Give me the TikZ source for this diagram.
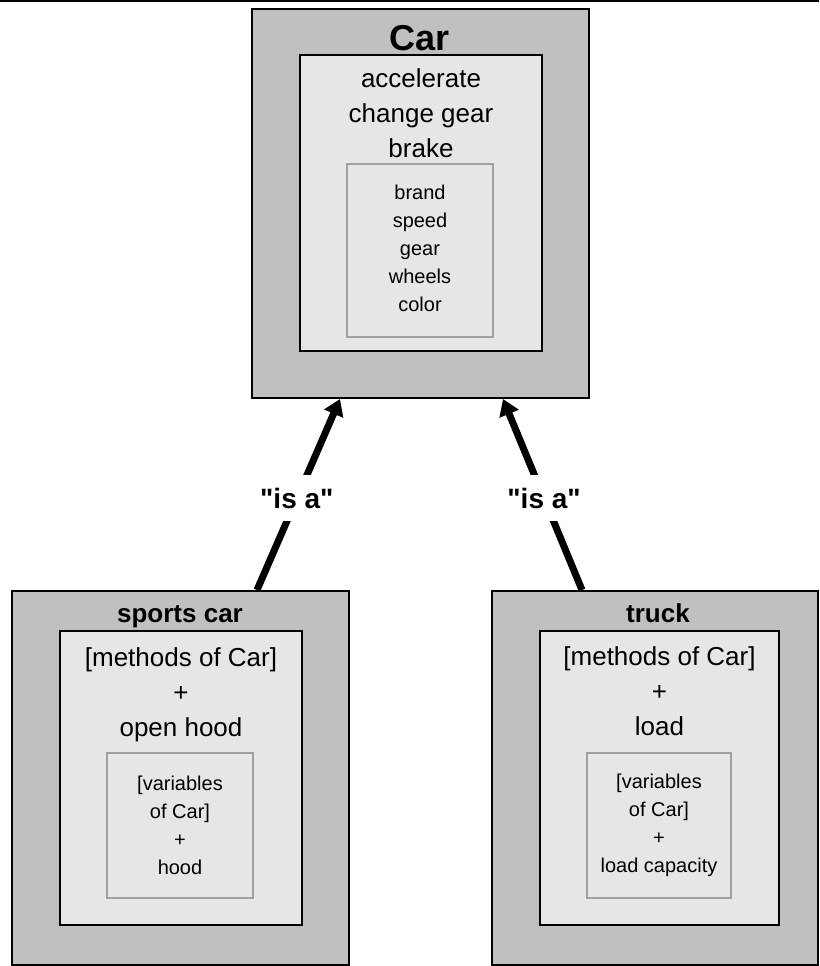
\documentclass[tikz,border=0pt]{standalone}
\usepackage{fontspec}
\setmainfont{Liberation Sans}
\usetikzlibrary{arrows.meta,positioning,calc}
\definecolor{boxGray}{RGB}{192,192,192}
\definecolor{boxLight}{RGB}{230,230,230}
\definecolor{varEdge}{RGB}{160,160,160}

\begin{document}
\begin{tikzpicture}[x=1pt,y=-1pt,
    outer/.style={draw=black, line width=2pt, fill=boxGray, inner sep=0pt},
    methods/.style={draw=black, line width=2pt, fill=boxLight, inner sep=0pt},
    vars/.style={draw=varEdge, line width=2pt, fill=boxLight, inner sep=0pt},
    title/.style={font=\bfseries\fontsize{26}{30}\selectfont, inner sep=0pt, anchor=base},
    big/.style={font=\fontsize{26}{35}\selectfont, align=center, inner sep=0pt},
    small/.style={font=\fontsize{20}{28}\selectfont, align=center, inner sep=0pt},
    isa/.style={line width=7pt, -{Triangle[length=16pt,width=20pt]}},
    isalabel/.style={fill=white, font=\bfseries\fontsize{28}{30}\selectfont,
      inner xsep=1pt, minimum height=46pt}
  ]
  \useasboundingbox (0,0) rectangle (819,966);
  \draw[line width=2.5pt] (0,1) -- (819,1);

  % Car
  \node[outer, minimum width=337pt, minimum height=389pt] (car) at (420.5,203.5) {};
  \node[methods, minimum width=242pt, minimum height=296pt] (carmeth) at (421,203) {};
  \node[vars, minimum width=146pt, minimum height=173pt] (carvars) at (420,250.5) {};
  \node[title, font=\bfseries\fontsize{36}{40}\selectfont] (cartitle) at (420,51) {Car};
  \node[big] (carmethtext) at (421,113) {accelerate\\change gear\\brake};
  \node[small] (carvarstext) at (420,248) {brand\\speed\\gear\\wheels\\color};

  % sports car
  \node[outer, minimum width=337pt, minimum height=374pt] (sports) at (180.5,778) {};
  \node[methods, minimum width=242pt, minimum height=294pt] (sportsmeth) at (181,778) {};
  \node[vars, minimum width=146pt, minimum height=145pt] (sportsvars) at (180,825.5) {};
  \node[title] (sportstitle) at (180,622) {sports car};
  \node[big] (sportsmethtext) at (181,694.5) {[methods of Car]\\+\\open hood};
  \node[small] (sportsvarstext) at (180,825) {[variables\\of Car]\\+\\hood};

  % truck
  \node[outer, minimum width=326pt, minimum height=374pt] (truck) at (655,778) {};
  \node[methods, minimum width=239pt, minimum height=294pt] (truckmeth) at (659.5,778) {};
  \node[vars, minimum width=144pt, minimum height=145pt] (truckvars) at (659,825.5) {};
  \node[title] (trucktitle) at (658,622) {truck};
  \node[big] (truckmethtext) at (659.5,691.5) {[methods of Car]\\+\\load};
  \node[small] (truckvarstext) at (659,825) {[variables\\of Car]\\+\\load capacity};

  % "is a" arrows
  \coordinate (sportsend) at ([xshift=76.5pt]sports.north);
  \coordinate (carleft) at ([xshift=-80.5pt]car.south);
  \coordinate (truckend) at ([xshift=-73pt]truck.north);
  \coordinate (carright) at ([xshift=82.5pt]car.south);
  \draw[isa] (sportsend) -- node[isalabel, pos=0.48] (isaleft) {\textquotedbl is a\textquotedbl} (carleft);
  \draw[isa] (truckend) -- node[isalabel, pos=0.48] (isaright) {\textquotedbl is a\textquotedbl} (carright);
\end{tikzpicture}
\end{document}
